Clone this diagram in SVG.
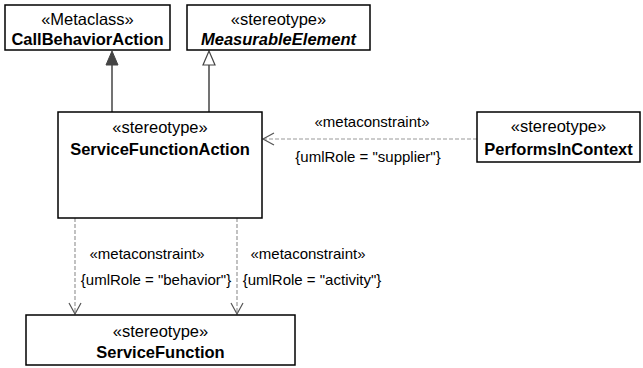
<svg xmlns="http://www.w3.org/2000/svg" width="643" height="368" viewBox="0 0 643 368">
<style>
.box{fill:#fff;stroke:#000;stroke-width:1.5}
text{font-family:"Liberation Sans",Arial,sans-serif;font-size:16.5px;text-anchor:middle;fill:#000}
.b{font-weight:bold}
.bi{font-weight:bold;font-style:italic}
.lbl{font-size:15px}
.gen{stroke:#444;stroke-width:1.5;fill:none}
.dep{stroke:#999;stroke-width:1.2;stroke-dasharray:4,2;fill:none}
.open{stroke:#555;stroke-width:1.2;fill:none}
</style>
<g id="connectors">
<line class="gen" x1="112" y1="64" x2="112" y2="112"/>
<polygon points="112,51 106,65 118,65" fill="#444" stroke="#444" stroke-width="1"/>
<line class="gen" x1="209" y1="64" x2="209" y2="112"/>
<polygon points="209,51 203,65 215,65" fill="#fff" stroke="#444" stroke-width="1.2"/>
<line class="dep" x1="477" y1="139" x2="263" y2="139"/>
<polyline class="open" points="274,133 263,139 274,145"/>
<text class="lbl" x="372" y="127">«metaconstraint»</text>
<text class="lbl" x="368" y="162">{umlRole = "supplier"}</text>
<line class="dep" x1="75" y1="218" x2="75" y2="314"/>
<polyline class="open" points="69,303 75,314 81,303"/>
<line class="dep" x1="237" y1="218" x2="237" y2="314"/>
<polyline class="open" points="231,303 237,314 243,303"/>
<text class="lbl" x="147" y="259">«metaconstraint»</text>
<text class="lbl" x="308" y="259">«metaconstraint»</text>
<text class="lbl" x="156" y="285">{umlRole = "behavior"}</text>
<text class="lbl" x="312" y="285">{umlRole = "activity"}</text>
</g>
<g id="CallBehaviorAction">
<rect class="box" x="5" y="5" width="165" height="45"/>
<text x="87.5" y="25">«Metaclass»</text>
<text class="b" x="87.5" y="45">CallBehaviorAction</text>
</g>
<g id="MeasurableElement">
<rect class="box" x="187" y="5" width="183" height="45"/>
<text x="278.5" y="25">«stereotype»</text>
<text class="bi" x="278.5" y="45">MeasurableElement</text>
</g>
<g id="ServiceFunctionAction">
<rect class="box" x="58" y="112" width="204" height="106"/>
<text x="160" y="133">«stereotype»</text>
<text class="b" x="160" y="155">ServiceFunctionAction</text>
</g>
<g id="PerformsInContext">
<rect class="box" x="477" y="112" width="163" height="50"/>
<text x="558.5" y="132">«stereotype»</text>
<text class="b" x="558.5" y="155">PerformsInContext</text>
</g>
<g id="ServiceFunction">
<rect class="box" x="26" y="315" width="269" height="50"/>
<text x="160.5" y="337">«stereotype»</text>
<text class="b" x="160.5" y="358">ServiceFunction</text>
</g>
</svg>
